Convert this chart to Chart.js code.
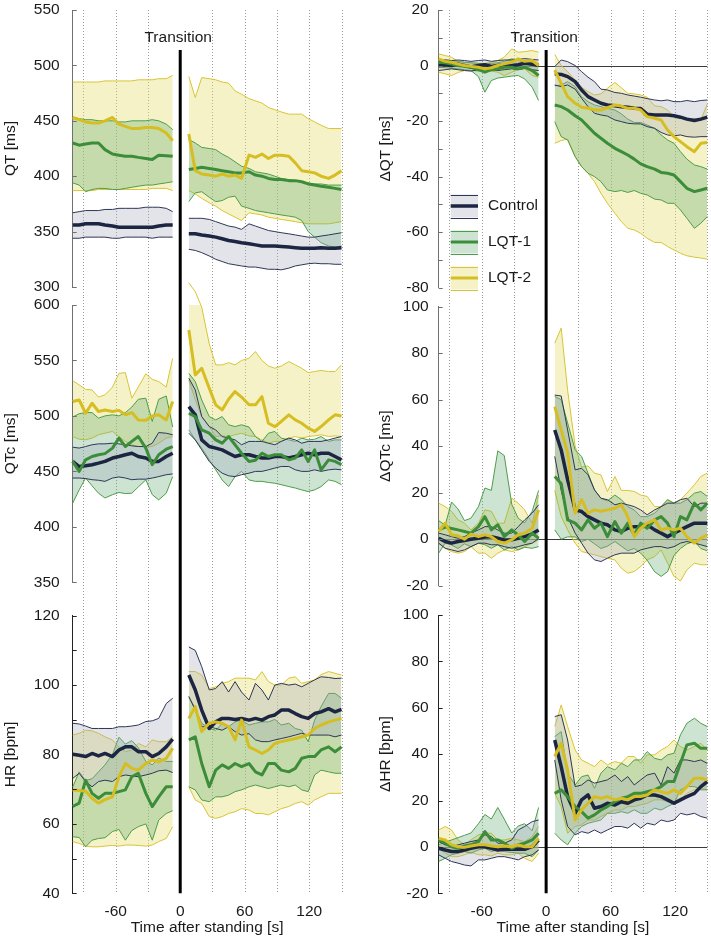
<!DOCTYPE html>
<html>
<head>
<meta charset="utf-8">
<script src="https://cdn.jsdelivr.net/npm/chart.js@4.4.1/dist/chart.umd.min.js"></script>
<style>
  html, body { margin: 0; padding: 0; background: #fff; }
  #wrap { position: relative; width: 711px; height: 940px; overflow: hidden; }
  canvas { position: absolute; }
</style>
</head>
<body>
<div id="wrap">
  <canvas id="qt"   width="360" height="297" style="left:0;top:0"></canvas>
  <canvas id="dqt"  width="351" height="297" style="left:360px;top:0"></canvas>
  <canvas id="qtc"  width="360" height="330" style="left:0;top:270px"></canvas>
  <canvas id="dqtc" width="351" height="330" style="left:360px;top:270px"></canvas>
  <canvas id="hr"   width="360" height="340" style="left:0;top:600px"></canvas>
  <canvas id="dhr"  width="351" height="340" style="left:360px;top:600px"></canvas>
</div>
<script>
// ---- data ----
const SERIES = ['Control', 'LQT-1', 'LQT-2'];
const T_PRE = [-100,-94,-88,-82,-76,-70,-63,-57,-51,-45,-39,-32,-26,-20,-13,-7];
const T_POST = [8,14,20,27,33,39,45,51,57,64,70,76,82,88,94,101,107,113,119,125,131,138,144,150];
const GRID_T = [-90,-60,-30,30,60,90,120,150];
const X_TICKS = [-60,0,60,120];
const X_TITLE = 'Time after standing [s]';

const QT_TICKS = [300,350,400,450,500,550];
const QTC_TICKS = [350,400,450,500,550,600];
const HR_TICKS = [40,50,60,70,80,90,100,110,120];
const HR_LABELS = [40,60,80,100,120];
const DQT_TICKS = [-80,-70,-60,-50,-40,-30,-20,-10,0,10,20];
const DQT_LABELS = [-80,-60,-40,-20,0,20];
const DQTC_TICKS = [-20,0,20,40,60,80,100];
const DHR_TICKS = [-20,0,20,40,60,80,100];

// QT [ms]
const QT_CTRL    = [356,356,357,357,357,356,355,354,354,354,354,354,354,355,356,356, 348,348,347,346,345,343.5,342,341,340,339,338,337,337,337,336.5,336,335.5,335,335,335,335.5,335,335,335.5];
const QT_CTRL_LO = [344,344,345,345,345,345,344,344,345,345,345,345,344,345,345,345, 334,333,331,328,325,323,321,320,319,318,318,317,316,316,315.5,317,319,320,321,321.5,321,321,320.5,320.5];
const QT_CTRL_HI = [367,368,369,369,369,370,370,371,371,371,371,372,372,372,371,368, 362,362,362,361,359,357,355,354,352,357,355,353,351,350,349,348,347,346,345,345,346,347,348,349];
const QT_L1      = [430,428,429,430,430,424,420,419,418,418,417,416,415,419,418.5,418, 406,407,408,407,406,405,404,403,403,404,401,400,398,397,397,396,396,395,393,392,391,390,389,388];
const QT_L1_LO   = [394,392,386,388,389,389,388,388,389,390,391,392,392,393,394,395, 377,385,386,381,377,378,381,382,373,371,369,368,367,366,365,364,363,360,350,345,340,337,336,337];
const QT_L1_HI   = [453,452,451,451,450,450,450,449,449,450,450,450,451,450,447,442, 433,430,426,425,424,420,417,413,409,407,404,403,402,400,398,397,396,395,394,393,393,392,392,392];
const QT_L2      = [453,451,449,448,448,450,453,447,445,443,443,444,444,443,439,432, 438,405,402,401,400,402,400,401,398,419,417,420,416,419,419,418,412,405,404,403,400,398,401,405];
const QT_L2_LO   = [387,387,387,387,388,388,388,388,388,388,388,388,389,389,389,387, 387,384,380,376,373,369,366,363,360,367,366,365,363,362,361,360,359,358,357,357,357,357,358,359];
const QT_L2_HI   = [485,485,485,485,485,486,486,486,486,486,487,487,487,488,488,491, 490,471,489,488,487,485,484,477,474,470,468,466,462,460,458,456,456,456,452,449,446,443,443,443];

// dQT [ms]
const DQT_CTRL    = [0,0.3,0,0.5,0,-0.5,0,0.3,-0.3,0,0.3,0,0.3,0.8,0.5,0, -3,-3.2,-4,-5.8,-8.8,-11.2,-12.4,-13.6,-14.2,-14.5,-14.8,-15,-15.4,-15.5,-17.5,-17.8,-17.8,-17.8,-18.1,-18.6,-19.3,-19.8,-19.3,-18.6];
const DQT_CTRL_LO = [-1.8,-1.5,-1.2,-1.5,-1.8,-2,-1.5,-1.2,-1.5,-1.8,-1.5,-1.2,-1.5,-1,-1.5,-1.8, -7,-7.6,-7,-8.5,-11.8,-14.8,-17.2,-17.8,-18.2,-19.6,-20.2,-20.8,-21,-21,-22,-22.6,-24.1,-25,-25.3,-25,-25.6,-25.8,-25.6,-25.6];
const DQT_CTRL_HI = [1.8,2,1.8,2,1.8,1.5,1.8,2,1.5,1.8,2,2,2.2,2.5,2.2,2, -0.4,2,1.4,0,-2.2,-4.2,-5.8,-8.5,-8.8,-9.7,-10,-10.6,-11,-11.4,-11.9,-12.4,-12.7,-12.4,-13,-13,-12.6,-13,-12.6,-12.4];
const DQT_L1      = [1.2,1,0.5,0,-0.3,-0.6,-1.5,-2.4,-1.5,-1.2,-0.6,-0.6,-1.2,-0.6,-1.8,-3.6, -14.2,-14.8,-16,-18.1,-19.6,-22,-24.4,-26.2,-28,-29.8,-31,-32.2,-33.7,-35.4,-36.4,-37.3,-38.5,-38.8,-39.4,-41.8,-44.2,-45.4,-44.8,-44.2];
const DQT_L1_LO   = [-0.6,-0.8,-1,-1.2,-1.5,-1.8,-4,-9.6,-5.4,-4.5,-4.2,-3.8,-3.6,-4.8,-7.8,-12.6, -20.2,-25.6,-26.8,-32.8,-36.4,-38.8,-40,-41.8,-44.8,-45.4,-45,-45.7,-45,-46,-46.6,-48.1,-48.4,-49.6,-49.6,-52,-55,-58.6,-56.8,-54.4];
const DQT_L1_HI   = [2,2,1.8,1.5,1.2,1,0.8,0.5,0.8,1,1.5,2.4,2,1,1,0.8, -7.3,-7,-5.8,-7.6,-11.2,-13,-14.2,-14.8,-15.4,-16,-17.4,-19.3,-20.5,-20.5,-21.4,-22.6,-25,-26.8,-28,-31,-33.7,-35.8,-36.4,-37.3];
const DQT_L2      = [2.4,1.5,1.2,0.5,0,-0.3,-0.6,-1.2,-0.8,0,0.6,1.2,2.4,1.5,1.8,0, -1.6,-6.4,-11.2,-13.6,-15,-15.4,-16,-16,-15.2,-14.2,-14.6,-15.4,-15.4,-16,-18.4,-19,-19.6,-23.2,-25.6,-27.4,-29.2,-31,-28,-27.7];
const DQT_L2_LO   = [-2.4,-3,-3.6,-2.5,-1.8,-1.8,-2,-1.8,-2,-2.4,-3.6,-2.4,-1.5,-1.2,-3.6,-4.2, -28,-27,-26.5,-32.8,-36.4,-38.8,-41.8,-46,-49.6,-53.2,-56.2,-58.6,-59.2,-60.4,-62.2,-63.7,-63.7,-65.2,-66.4,-67.6,-68.5,-69,-69.3,-69.7];
const DQT_L2_HI   = [4.2,3.6,3,1.5,1.2,1,0.8,0.8,1.2,1.8,3,6,4.8,5,5.4,4.8, 4,0,-2.2,-5.2,-7.8,-9.4,-10.6,-10.2,-8.2,-6.1,-8,-10,-10.2,-10.6,-11.4,-14.5,-14.8,-16,-18.4,-18.4,-19.6,-19,-19.6,-13.8];

// QTc [ms]
const QTC_CTRL    = [459,454.4,455,456,457.4,459,462,463.4,465,466.4,463.4,462,459,459,463.4,466.4, 508.4,501,478.4,472.4,471,469.4,466.4,463.4,465,465,463.4,462,462,463.4,463.4,462,463.4,465,466.4,465,466.4,466.4,463.4,460.4];
const QTC_CTRL_LO = [444,444,443.5,442.5,442,441,444,445,444,442.5,443,443,444,445.3,447,447.7, 484.4,478.4,469.4,459,453,448.4,446,445.3,447,448.4,450,450,451.4,453,454.4,454.4,451.4,450,450,451.4,450,451.4,452,451.4];
const QTC_CTRL_HI = [471.8,471,472.4,474,474.8,474.8,475.4,474.8,474,473,472.4,472.4,475.4,485,484.4,483, 534,523.4,499.4,490.4,487.4,481.4,480,478.4,474,477,477,477,475.4,474,477,480,478.4,475.4,477,477,477,478.4,480,481.4];
const QTC_L1      = [459,450,460.4,463.4,465,466,471,480,472.4,477,481.4,471,456,465,470,472.4, 502.4,499.4,487.4,484.4,478.4,475.4,481.4,474,466.4,459,460,466.4,463.4,465,465,460.4,462,469.4,459,469.4,451.4,460.4,459,456];
const QTC_L1_LO   = [421.3,433.3,444,437,430.3,426,429,431,430,430.3,436,442.3,429,424.3,430.3,445.3, 487.4,478.4,471,460.4,451.4,442.3,436.3,445.3,450,442.3,441,441,440,439.3,438,436.3,435,433.3,431.8,433.3,436.3,442.3,441,438];
const QTC_L1_HI   = [499,502,503,503,498,500,501,500,503,508,515,516,495,515,518,490, 538.4,531,514.4,499.4,496.4,499.4,492,490.4,492,490,481.4,477,484.4,486,480,478.4,477,480,478.4,479,481.4,477,478.4,478.4];
const QTC_L2      = [513,514.4,502.4,511.4,504,505.4,504,505,501,503,496.4,496,500,501,496.4,513, 577.5,537,543,525,510,505.4,515,522,517,510,510,517.4,493.4,490.4,495,501,496.4,493.4,489,486,490.4,496.4,501,500];
const QTC_L2_LO   = [481.4,479,478.4,480,483,484.4,486,481.4,477,474,472.4,472.4,472.4,475.4,480,481.4, 532.4,514.4,499.4,490.4,481.4,482,481.4,483,484.4,482,481.4,478.4,475.4,477,477,480,481.4,480,481.4,482,483,481.4,482,481.4];
const QTC_L2_HI   = [531.8,528,524,523.4,517,519,526,538.4,539,516,526,538,533,531,526,552, 620,612,598,565,546,546,548,546,550,552,558,550,545,543,545,549,546,543,539,540,541,540,540,546];

// dQTc [ms]
const DQTC_CTRL    = [0.4,-1,-1.7,-1,-0.6,0,0.4,0.9,1.1,0.4,-0.3,-0.3,0.4,1.1,2.3,4, 47,38.4,25.5,12.6,11.9,9.7,8.3,6.9,6.2,4,3.3,4.7,5.4,5.4,6.2,4,2.6,1.1,2.6,4,5.4,6.9,6.9,6.9];
const DQTC_CTRL_LO = [-1.7,-3.9,-4.6,-5.3,-4.6,-3.2,-1.7,-1.7,-2.4,-2.4,-3.2,-3.9,-3.2,-2.4,-1.7,0.3, 35.6,21,9.7,2.6,-1.7,-6,-8.9,-9.6,-8.2,-6.7,-6,-6,-6,-4.6,-3.9,-3.2,-3.2,-3.9,-3.2,-1.7,-1,-1.7,-2.4,-3.2];
const DQTC_CTRL_HI = [2.6,1.9,1.1,0.4,1.1,2.6,4,5.4,5.4,4,2.6,2.6,5.4,8.3,11.2,14.8, 62,61.6,47,29.8,30.5,27.7,21.2,17.6,17,14.8,15.5,14.8,14,12.6,10.5,12.6,14,15.5,15.5,17,17.6,14,15.5,15.5];
const DQTC_L1      = [4,5.2,4.6,4,3.3,2.6,5.4,9.7,4,6.2,1.1,4,1.8,-1,2.6,0.4, 27,24,8.3,6.9,4,8.3,4.7,6.9,1.1,7.6,2.6,6.9,1.9,6.9,4.7,8.3,9.7,6.9,1.1,9.7,8.3,15.5,12.6,15.5];
const DQTC_L1_LO   = [-6,-1.7,-2.5,-4,-2,-3.2,-1.7,-2.4,-3.9,-2.4,-4.6,-3.2,-4.6,-3.5,-3.9,-3.2, 4,0,1,1,-1,0,-2,-4,-3,-1,-3,-5,-4,-6,-9,-14,-16,-14,-7,-4,-2,-1,-4,-5];
const DQTC_L1_HI   = [8,6,16,13,8,9,14,22,21,38,36,15,9,7,12,21, 61.4,60,50,38.4,35.6,28.4,21.2,17.6,16.5,19,17,14,12.6,9.7,9.7,11.2,14,17,15.5,15.5,17,19.8,20.5,18.4];
const DQTC_L2      = [3.3,6.9,1.9,1.5,0,2.2,1.1,1.9,1.1,-1,-1.7,-0.3,1.9,2.6,4.7,12.6, 57,47,37,11.2,17,11.2,12.6,12,12.6,13.3,14.8,9.7,1.1,4.7,6.9,8.3,4,4.7,4,4.7,1.1,-1.7,0.4,1.9];
const DQTC_L2_LO   = [-1.7,-3.9,-5.3,-6,-5.3,-3.2,-6,-6,-8.2,-6,-4.6,-5.3,-4.6,-3.2,-1.7,-0.3, 21,9.7,4,-1.7,-5.3,-6,-6.7,-7.5,-8.2,-8.9,-12.5,-14.6,-13.9,-11.8,-8.9,-7.5,-4.6,-10.3,-16,-18,-13.2,-10.3,-11,-11];
const DQTC_L2_HI   = [15.5,14,12,8.3,6.9,4,6.9,12.6,12,6.9,6.9,17.6,15.5,12.6,6.9,19, 84.3,90.8,64,40,31,31.5,28.4,27.7,20.5,27,21,21,20.5,19,18.4,14,14,17,15.5,17,19.8,23.4,27,28.4];

// HR [bpm]
const HR_CTRL    = [80.1,79.8,79.4,80.3,79.6,80.3,79.4,81.3,82.2,82.2,80.8,80.8,79.4,80.3,82.2,84.4, 102.9,98.6,92.8,87.5,89.4,90.4,90.4,90.1,90.4,89.9,90.4,89.9,90.9,91.4,92.8,92.8,91.8,90.9,90.4,91.8,92.3,93.2,92.3,93];
const HR_CTRL_LO = [73.1,74.6,72.2,70.7,72.2,72.6,72.2,73.6,74.1,73.8,73.6,74.1,74.6,75.3,75.5,74.8, 96.7,92.8,88,88,87.5,87,88,86.6,85.6,86,84.2,83.7,83.7,84.2,84.6,85.1,85.6,86.1,85.6,85.6,85.6,85.6,85.1,85.6];
const HR_CTRL_HI = [89,88.8,88.2,87.5,87.5,87.5,87.5,88,88,88.2,88.5,89.5,89.7,90.4,94.7,96.2, 111,110,105.3,98.6,99,101,98,101,98,95.7,100.5,98.6,95.7,100,100.5,100,100.3,99.5,100.5,101.5,102.4,102.2,101.9,102];
const HR_L1      = [65,66,72.6,68.8,67.4,68.8,68.8,69.3,69.8,73.6,74.6,68.8,65,67.8,70.7,70.7, 84.2,85.1,77.4,70.7,75.5,77,76,77.4,76.5,77.4,75,74.1,77.4,77.4,75.5,75,76,78.9,79.4,79.4,81.3,82.2,80.8,82.2];
const HR_L1_LO   = [56.3,56.1,53.4,55.3,55.8,56,57.8,58.4,55.3,58.1,59.2,60,55.3,61.1,63,63.8, 70.7,69.8,66.9,66.4,67.8,67.8,68.3,69.3,69.8,70.7,71.2,70.7,70.2,70.7,71.2,70.7,71.2,69.8,69.3,74.1,75.5,75,74.6,74.6];
const HR_L1_HI   = [70.6,75,72.5,73,75,77,80,85,83,84,82,78,77,79,78,78, 96.7,93.3,89,87.5,87,89,88,89.4,89.9,88.5,89,89.4,89.4,90.1,88.5,89,87.5,87,83.7,89.9,93.8,97.6,97.6,96.2];
const HR_L2      = [69.8,69.6,69.4,67.4,66,67,67.8,73.6,77.4,76,75.5,77.4,78.4,77.9,78.9,81.8, 90.4,93.8,86.6,89,89.4,89,88,84.2,89.9,82.2,81.3,80.3,81.3,83.2,83.7,84.2,84.6,85.1,85.6,87.5,88.5,89.4,89.9,90.4];
const HR_L2_LO   = [54.9,54.4,53.6,53.4,53.4,53.6,53.8,53.6,53.9,53.9,53.8,53.6,53.9,54.9,55.8,59.2, 70.7,66.9,65.9,62.1,61.6,62.1,63,63.5,64.4,64,63,63,62.6,63.5,64.4,65,65.9,66.4,65.4,66.9,67.8,68.8,68.8,68.8];
const HR_L2_HI   = [85.6,86.1,87,86.8,86.1,85.1,84.2,82.2,80.8,81.3,83.2,82.2,84.2,83.7,83.7,85.1, 103.9,103.9,102.9,99,99.5,100.5,101,102,102,102,101.5,103.9,101,100,100,102,102.4,100.5,101,101.5,103,103.9,103.4,102.9];

// dHR [bpm]
const DHR_CTRL    = [-0.6,-1.3,-2,-2,-1.3,-0.6,0.1,0.1,-0.6,-1.3,-1,-1,-1,-1,0.1,3, 46.1,34.6,21.7,14.5,20.3,22.4,16.7,17.4,18.8,18.1,19.5,18.8,20.3,21,22.4,22.4,21.7,20.3,18.8,20.3,21.7,23.1,26,28.2];
const DHR_CTRL_LO = [-3.4,-4.9,-6.3,-7,-7.8,-8.2,-5.6,-5.6,-4.9,-4.2,-4.2,-4.9,-5.6,-4.2,-3.4,-1.3, 37.5,20.3,8.8,5.2,6.6,5.9,7.3,5.9,7.3,8.8,8.8,8.1,10.2,8.1,10.2,9.5,11.6,10.9,11.6,14.5,13.8,14.5,13.1,12.4];
const DHR_CTRL_HI = [2.3,0.9,0.1,0.9,1.6,2.3,3,5.2,4.5,1.6,1.6,3,7.3,8.8,10.9,11.6, 56.2,57,46.1,26,26.7,28.9,27.5,28.2,28.9,31,28.2,30.3,26.7,28.9,31,31.8,26.7,34.6,31.8,37.5,37.5,36.8,37.5,36];
const DHR_L1      = [3,1.6,0.1,-0.6,0.4,0.9,2.3,6.6,3,3,1.6,-0.6,0.9,1.6,3,5.9, 23.1,24.6,21.7,17.4,15.2,12.4,13.8,15.9,17.4,19.5,21,21.7,23.1,23.1,23.8,24.6,26,28.2,28.2,36.1,44,44.7,42.5,42.5];
const DHR_L1_LO   = [-6.3,-4.9,-3.4,-2.7,-2,-2.7,-1.3,-0.6,-2,-1.3,-2,-2.4,-2.7,-2.7,-4.2,-1.3, 5.9,3,0.9,5.9,8.8,10.2,10.9,11.6,14.5,14.5,15.2,14.5,16,14.5,14.5,16.7,15.9,17.4,18.8,24.6,26,26,24.6,24.6];
const DHR_L1_HI   = [1,2,3,4,5,6,10,14,12,17,12,6,9,10,7,17, 47.6,49.7,31.8,26.7,30.3,31,25.3,31.8,34.6,33.2,36.1,34.6,37.5,37.5,41.1,38.2,37.5,39.7,40.4,48.3,53.3,55.5,53.3,51.9];
const DHR_L2      = [3.7,3,0.9,0.1,-0.2,0.4,0.9,0.9,0.4,0.1,0.4,0.1,0.9,0.1,0.1,3.7, 39,44.7,33.2,11.6,16,18.8,21.7,21,21.7,20.3,21,20.3,21.7,21.7,22.4,24.6,23.8,23.1,24.6,23.1,26,29.6,29.6,28.9];
const DHR_L2_LO   = [-0.6,-2.7,-4.2,-4.2,-3.4,-2.4,-3.4,-3.4,-3.9,-2.7,-3.4,-3.4,-2.7,-4.9,-6.3,-2.7, 23.1,17.4,5.9,8.8,9.5,11.6,11.6,13.1,14.5,15.9,15.9,17.4,17.4,18.1,18.8,20.3,20.3,19.5,18.8,20.3,23.1,24.6,25.3,24.6];
const DHR_L2_HI   = [7.3,8.8,7.3,3,0.9,3,5.2,5.9,5.9,3,3,3.7,3,2.3,4.5,8.8, 51.9,61.2,51.9,41.8,37.5,36.1,34.6,37.5,35.4,36.8,36.1,39,39,36.1,39.7,39.7,41.8,43.3,46.1,43.3,41.8,43.3,44.7,41.8];

// ---- styles ----
const FONT = '"Liberation Sans", Arial, Helvetica, sans-serif';
Chart.defaults.font.family = FONT;
Chart.defaults.font.size = 15.5;
Chart.defaults.color = '#1a1a1a';

const GROUPS = [
  { line: '#1c2541', edge: '#2e3655', fill: 'rgba(160,166,185,0.30)', w: 3.5, band: 10, top: 3 },
  { line: '#3c8d3a', edge: '#4d9d48', fill: 'rgba(90,165,105,0.30)',  w: 3,   band: 20, top: 2 },
  { line: '#d6be22', edge: '#d8c434', fill: 'rgba(230,222,118,0.40)', w: 3,   band: 30, top: 1 }
];

function pts(v) {
  const out = T_PRE.map((t, i) => ({ x: t, y: v[i] }));
  out.push({ x: 0, y: null });
  T_POST.forEach((t, i) => out.push({ x: t, y: v[T_PRE.length + i] }));
  return out;
}

function hline(ctx, x0, x1, y) { ctx.beginPath(); ctx.moveTo(x0, y); ctx.lineTo(x1, y); ctx.stroke(); }
function vline(ctx, x, y0, y1) { ctx.beginPath(); ctx.moveTo(x, y0); ctx.lineTo(x, y1); ctx.stroke(); }

// vertical extent of the dotted grid / thick line inside each canvas
function spans(chart, span) {
  const a = chart.chartArea, H = chart.height;
  if (span === 'top') return { grid: [a.top, H], thick: [50, H] };
  if (span === 'mid') return { grid: [27, H], thick: [27, H] };
  return { grid: [0, a.bottom], thick: [0, a.bottom] };
}

const decor = {
  id: 'decor',
  // pin the plot box to the panel position of the original figure
  afterLayout(chart, args, o) {
    const a = chart.chartArea, { x, y } = chart.scales;
    a.top = o.top; a.bottom = o.bottom; a.height = o.bottom - o.top;
    y.top = a.top; y.bottom = a.bottom; y.height = a.height;
    y.configure();
    if (x.options.display) {
      const h = x.height;
      x.top = a.bottom; x.bottom = a.bottom + h;
      x.configure();
    }
  },
  beforeDatasetsDraw(chart, args, o) {
    const { ctx, chartArea: a, scales: { x, y } } = chart;
    const s = spans(chart, o.span);
    ctx.save();
    ctx.strokeStyle = '#9b9b9b';
    ctx.lineWidth = 1;
    ctx.setLineDash([1, 2]);
    GRID_T.forEach(t => vline(ctx, Math.round(x.getPixelForValue(t)) + 0.5, s.grid[0], s.grid[1]));
    ctx.setLineDash([]);
    if (o.zero) {
      ctx.strokeStyle = '#3a3a3a';
      hline(ctx, a.left, a.right, Math.round(y.getPixelForValue(0)) + 0.5);
    }
    ctx.restore();
  },
  afterDraw(chart, args, o) {
    const { ctx, chartArea: a, scales: { x, y } } = chart;
    const s = spans(chart, o.span);
    ctx.save();
    // inward tick marks
    ctx.strokeStyle = o.axis;
    ctx.lineWidth = 1;
    y.ticks.forEach(t => hline(ctx, a.left, a.left + 4, Math.round(y.getPixelForValue(t.value)) + 0.5));
    // standing-up marker
    const x0 = x.getPixelForValue(0);
    ctx.strokeStyle = '#000';
    ctx.lineWidth = 3;
    vline(ctx, x0, s.thick[0], s.thick[1]);
    ctx.fillStyle = '#1a1a1a';
    ctx.font = '15.5px ' + FONT;
    if (o.transition) {
      ctx.textAlign = 'center';
      ctx.textBaseline = 'middle';
      ctx.fillText('Transition', x0 - 2, 38);
    }
    if (o.legend) {
      const L = 90.7, W = 27.3, Hh = 23, CY = [206, 242, 278];
      GROUPS.forEach((g, i) => {
        const cy = CY[i];
        ctx.fillStyle = g.fill;
        ctx.fillRect(L, cy - Hh / 2, W, Hh);
        ctx.strokeStyle = g.edge; ctx.lineWidth = 1;
        hline(ctx, L, L + W, Math.round(cy - Hh / 2) + 0.5);
        hline(ctx, L, L + W, Math.round(cy + Hh / 2) + 0.5);
        ctx.strokeStyle = g.line; ctx.lineWidth = g.w;
        hline(ctx, L, L + W, cy);
        ctx.fillStyle = '#1a1a1a';
        ctx.textAlign = 'left';
        ctx.textBaseline = 'middle';
        ctx.fillText(SERIES[i], 128, cy);
      });
    }
    ctx.restore();
  }
};

function panel(id, c) {
  const datasets = [];
  GROUPS.forEach((g, gi) => {
    const lo = datasets.length;
    datasets.push({ data: pts(c.series[gi][1]), borderColor: g.edge, borderWidth: 1, pointRadius: 0, fill: false, order: g.band, clip: false });
    datasets.push({ data: pts(c.series[gi][2]), borderColor: g.edge, borderWidth: 1, pointRadius: 0, fill: { target: lo }, backgroundColor: g.fill, order: g.band, clip: false });
  });
  GROUPS.forEach((g, gi) => {
    datasets.push({ data: pts(c.series[gi][0]), borderColor: g.line, borderWidth: g.w, pointRadius: 0, fill: false, order: g.top, clip: false, borderJoinStyle: 'round' });
  });
  const right = c.col === 1;
  const showX = c.span === 'bottom';
  return new Chart(document.getElementById(id), {
    type: 'line',
    data: { datasets },
    plugins: [decor],
    options: {
      responsive: false,
      animation: false,
      devicePixelRatio: 1,
      events: [],
      elements: { line: { tension: 0 } },
      layout: { padding: { left: right ? 12 : 0, right: right ? 3.7 : 18.5, top: c.top, bottom: 0 } },
      plugins: {
        legend: { display: false },
        tooltip: { enabled: false },
        decor: { span: c.span, zero: right, transition: c.span === 'top', legend: !!c.legend, axis: c.axis, top: c.top, bottom: c.bottom }
      },
      scales: {
        x: {
          type: 'linear', min: -100, max: 150,
          display: showX,
          grid: { display: false, drawTicks: false },
          border: { display: false },
          afterBuildTicks: s => { s.ticks = X_TICKS.map(v => ({ value: v })); },
          ticks: { padding: 9, maxRotation: 0, autoSkip: false, callback: v => String(v) },
          title: { display: true, text: X_TITLE, padding: { top: 0, bottom: 3 } },
          afterFit: s => { if (showX) s.height = 46.7; }
        },
        y: {
          type: 'linear', min: c.min, max: c.max,
          grid: { display: false, drawTicks: false },
          border: { display: true, color: c.axis, width: 1 },
          afterBuildTicks: s => { s.ticks = c.ticks.map(v => ({ value: v })); },
          ticks: { padding: right ? 10 : 13, autoSkip: false, callback: v => (c.labels || c.ticks).includes(v) ? String(v) : '' },
          title: { display: true, text: c.title, padding: { top: right ? 4 : 1.2, bottom: 0 } },
          afterFit: s => { s.width = right ? 66.7 : 72.7; }
        }
      }
    }
  });
}

panel('qt', { col: 0, span: 'top', top: 10, bottom: 287, min: 300, max: 550, ticks: QT_TICKS, title: 'QT [ms]', axis: '#707070',
  series: [[QT_CTRL, QT_CTRL_LO, QT_CTRL_HI], [QT_L1, QT_L1_LO, QT_L1_HI], [QT_L2, QT_L2_LO, QT_L2_HI]] });
panel('dqt', { col: 1, span: 'top', top: 10, bottom: 287.7, min: -80, max: 20, ticks: DQT_TICKS, labels: DQT_LABELS, title: 'ΔQT [ms]', axis: '#707070', legend: true,
  series: [[DQT_CTRL, DQT_CTRL_LO, DQT_CTRL_HI], [DQT_L1, DQT_L1_LO, DQT_L1_HI], [DQT_L2, DQT_L2_LO, DQT_L2_HI]] });
panel('qtc', { col: 0, span: 'mid', top: 35, bottom: 312.3, min: 350, max: 600, ticks: QTC_TICKS, title: 'QTc [ms]', axis: '#707070',
  series: [[QTC_CTRL, QTC_CTRL_LO, QTC_CTRL_HI], [QTC_L1, QTC_L1_LO, QTC_L1_HI], [QTC_L2, QTC_L2_LO, QTC_L2_HI]] });
panel('dqtc', { col: 1, span: 'mid', top: 36.7, bottom: 315.7, min: -20, max: 100, ticks: DQTC_TICKS, title: 'ΔQTc [ms]', axis: '#707070',
  series: [[DQTC_CTRL, DQTC_CTRL_LO, DQTC_CTRL_HI], [DQTC_L1, DQTC_L1_LO, DQTC_L1_HI], [DQTC_L2, DQTC_L2_LO, DQTC_L2_HI]] });
panel('hr', { col: 0, span: 'bottom', top: 15.7, bottom: 293.3, min: 40, max: 120, ticks: HR_TICKS, labels: HR_LABELS, title: 'HR [bpm]', axis: '#222',
  series: [[HR_CTRL, HR_CTRL_LO, HR_CTRL_HI], [HR_L1, HR_L1_LO, HR_L1_HI], [HR_L2, HR_L2_LO, HR_L2_HI]] });
panel('dhr', { col: 1, span: 'bottom', top: 15, bottom: 293.3, min: -20, max: 100, ticks: DHR_TICKS, title: 'ΔHR [bpm]', axis: '#222',
  series: [[DHR_CTRL, DHR_CTRL_LO, DHR_CTRL_HI], [DHR_L1, DHR_L1_LO, DHR_L1_HI], [DHR_L2, DHR_L2_LO, DHR_L2_HI]] });
</script>
</body>
</html>
